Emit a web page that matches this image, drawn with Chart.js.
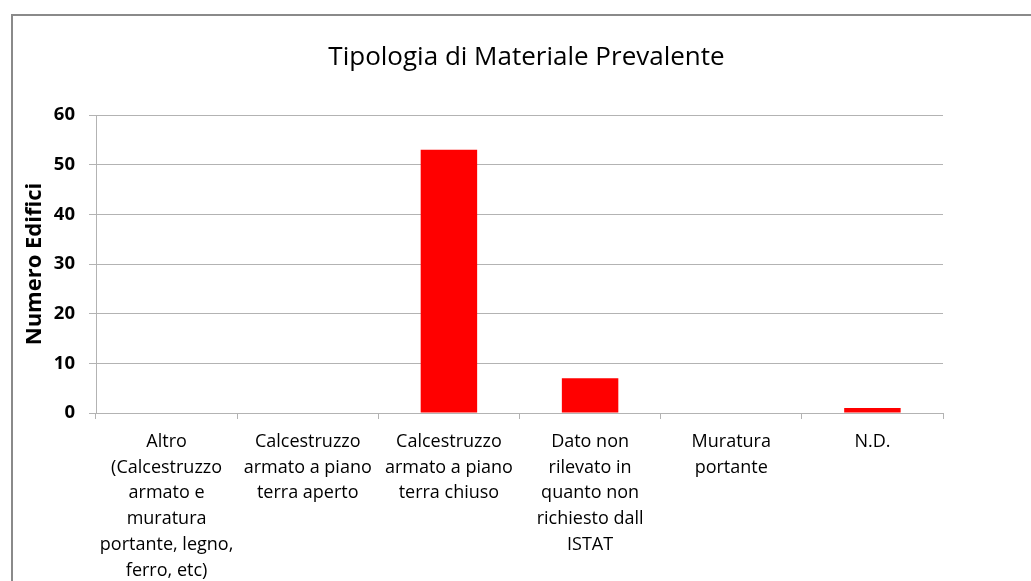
<!DOCTYPE html>
<html>
<head>
<meta charset="utf-8">
<script src="https://cdn.jsdelivr.net/npm/chart.js@4.4.0/dist/chart.umd.min.js"></script>
<style>
  html, body { margin: 0; padding: 0; background: #fff; }
  #wrap { position: relative; width: 1031px; height: 581px; overflow: hidden; }
  #frame { position: absolute; left: 11px; top: 14px; width: 1100px; height: 700px;
           border-left: 2px solid #8a8a8a; border-top: 2px solid #8a8a8a; box-sizing: border-box; }
  canvas { position: absolute; left: 0; top: 0; }
</style>
</head>
<body>
<div id="wrap">
  <div id="frame"></div>
  <canvas id="c" width="1031" height="581"></canvas>
</div>
<script>
const chartTitle = "Tipologia di Materiale Prevalente";
const yAxisTitle = "Numero Edifici";
const categories = [
  ["Altro", "(Calcestruzzo", "armato e", "muratura", "portante, legno,", "ferro, etc)"],
  ["Calcestruzzo", "armato a piano", "terra aperto"],
  ["Calcestruzzo", "armato a piano", "terra chiuso"],
  ["Dato non", "rilevato in", "quanto non", "richiesto dall", "ISTAT"],
  ["Muratura", "portante"],
  ["N.D."]
];
const values = [0, 0, 53, 7, 0, 1];
const yTicks = [0, 10, 20, 30, 40, 50, 60];

const gridColor = "#b3b3b3";

const titleShift = {
  id: "titleShift",
  afterLayout(chart) {
    if (chart.titleBlock) {
      chart.titleBlock.left += 7;
      chart.titleBlock.right += 7;
    }
  }
};

new Chart(document.getElementById("c"), {
  type: "bar",
  data: {
    labels: categories,
    datasets: [{
      data: values,
      backgroundColor: "#ff0000",
      borderWidth: 0,
      categoryPercentage: 1.0,
      barPercentage: 0.4
    }]
  },
  plugins: [titleShift],
  options: {
    responsive: false,
    animation: false,
    layout: { padding: { left: 12, right: 88, top: 0, bottom: 0 } },
    plugins: {
      legend: { display: false },
      tooltip: { enabled: false },
      title: {
        display: true,
        fullSize: false,
        text: chartTitle,
        color: "#000",
        font: { family: "Open Sans", size: 26, weight: "normal", lineHeight: 1.2 },
        padding: { top: 42, bottom: 41.8 }
      }
    },
    scales: {
      x: {
        grid: {
          offset: true,
          drawOnChartArea: false,
          drawTicks: true,
          tickLength: 6,
          color: gridColor
        },
        border: { display: true, color: gridColor, width: 1 },
        ticks: {
          color: "#000",
          font: { family: "Open Sans", size: 18, lineHeight: 1.43 },
          padding: 10,
          maxRotation: 0,
          minRotation: 0,
          autoSkip: false
        },
        afterFit: (s) => { s.height = 168; }
      },
      y: {
        min: 0,
        max: 60,
        afterBuildTicks: (s) => { s.ticks = yTicks.map(v => ({ value: v })); },
        grid: {
          color: gridColor,
          tickLength: 7,
          drawTicks: true
        },
        border: { display: true, color: gridColor, width: 1 },
        ticks: {
          color: "#000",
          font: { family: "Open Sans", size: 18.5, weight: "bold" },
          padding: 14
        },
        title: {
          display: true,
          text: yAxisTitle,
          color: "#000",
          font: { family: "Open Sans", size: 22, weight: "bold", lineHeight: 1.2 },
          padding: { top: 10, bottom: 0 }
        },
        afterFit: (s) => { s.width = 84; }
      }
    }
  }
});
</script>
</body>
</html>
